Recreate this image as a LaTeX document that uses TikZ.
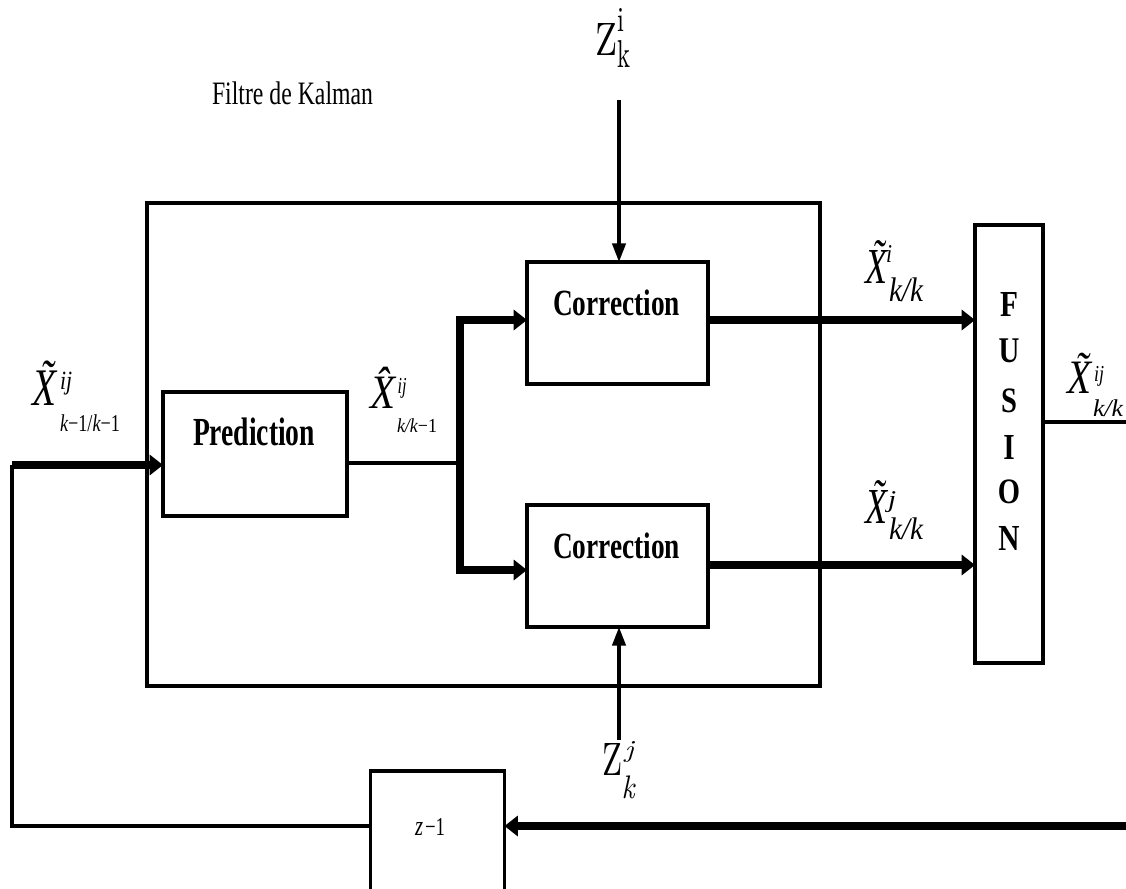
\documentclass[tikz,border=0pt]{standalone}
\usepackage{fontspec}
\usepackage{graphicx}
\newfontfamily\lib{Liberation Serif}
\usetikzlibrary{arrows.meta}
\newdimen\pxu \pxu=0.75pt
\newcommand\fitt[3]{\resizebox*{#1\pxu}{#2\pxu}{#3}}
\newcommand\Xt{{\lib\itshape X^^^^0303}}
\newcommand\Xh{{\lib\itshape X^^^^0302}}
\begin{document}
\begin{tikzpicture}[x=0.75pt,y=-0.75pt,
  txt/.style={inner sep=0pt,outer sep=0pt},
  blk/.style={draw, line width=2.6pt, inner sep=0pt, outer sep=0pt},
  thn/.style={line width=2.5pt},
  thk/.style={line width=5.5pt},
  thnarrow/.style={thn,-{Triangle[length=14pt,width=10pt]}},
  thkarrow/.style={thk,-{Triangle[length=10pt,width=15pt]}}]
\useasboundingbox (0,0) rectangle (1126,888);
\clip (0,0) rectangle (1126,888);
\fill[white] (0,0) rectangle (1126,888);

% blocks
\node[blk, minimum width=673*0.75pt, minimum height=483*0.75pt] (kalman) at (483.5,444.5) {};
\node[blk, minimum width=184*0.75pt, minimum height=124*0.75pt] (pred) at (255,454) {};
\node[blk, minimum width=181*0.75pt, minimum height=122*0.75pt] (corr1) at (617.5,323) {};
\node[blk, minimum width=181*0.75pt, minimum height=122*0.75pt] (corr2) at (617.5,566) {};
\node[blk, minimum width=68*0.75pt, minimum height=438*0.75pt] (fusion) at (1009,444) {};
\node[blk, minimum width=134*0.75pt, minimum height=130*0.75pt] (zbox) at (437.5,836) {};

% block texts
\node[txt] (title) at (292.5,93.5) {\fitt{161}{23}{\lib Filtre de Kalman}};
\node[txt] (tc1) at (616.5,303) {\fitt{127}{26}{\lib\bfseries Correction}};
\node[txt] (tc2) at (616.5,546) {\fitt{127}{26}{\lib\bfseries Correction}};
\node[txt] (tp) at (254,432) {\fitt{122}{28}{\lib\bfseries Prediction}};
\foreach \l/\yy [count=\n] in {F/304,U/351,S/401,I/447,O/492,N/538}
  \node[txt] (f\n) at (1009,\yy) {\scalebox{0.8}[1]{\resizebox*{!}{24\pxu}{\lib\bfseries \l}}};
\node[txt] (zz) at (419,829) {\fitt{8}{13}{\lib\itshape z}};
\node[txt] (zzs) at (435,826.5) {\fitt{20}{17}{\lib −1}};

% connector coordinates
\coordinate (fbR) at (1126,826);
\coordinate (fbC) at (12,826);
\coordinate (fbL) at (12,465);
\coordinate (split) at (460,463);
\coordinate (sTop) at (460,320);
\coordinate (sBot) at (460,570);
\coordinate (r1) at (708,320);
\coordinate (r2) at (708,565);
\coordinate (zi) at (619,100);
\coordinate (zj) at (619,740);
\coordinate (fo) at (1126,422);

% connectors
\draw[thkarrow] (fbR) -- (fbR -| zbox.east);
\draw[thn] (fbR -| zbox.west) -- (fbC) -- (fbL);
\draw[thkarrow] (fbL) -- (fbL -| pred.west);
\draw[thn] (split -| pred.east) -- (split);
\draw[thkarrow] (split) -- (sTop) -- (sTop -| corr1.west);
\draw[thkarrow] (split) -- (sBot) -- (sBot -| corr2.west);
\draw[thkarrow] (r1 -| corr1.east) -- (r1 -| fusion.west);
\draw[thkarrow] (r2 -| corr2.east) -- (r2 -| fusion.west);
\draw[thnarrow] (zi) -- (zi |- corr1.north);
\draw[thnarrow] (zj) -- (zj |- corr2.south);
\draw[thn] (fo -| fusion.east) -- (fo);

% left label  X~ ij k-1/k-1
\node[txt] (xa) at (45,383) {\fitt{24}{44}{\Xt}};
\node[txt] (xas) at (66,384) {\fitt{12}{23}{\lib\itshape ij}};
\node[txt] (xab) at (90,423) {\fitt{60}{17}{\lib\itshape k\upshape −1/\itshape k\upshape −1}};
% hat label
\node[txt] (xb) at (382.5,387.5) {\fitt{25}{41}{\Xh}};
\node[txt] (xbs) at (402,388) {\fitt{9}{20}{\lib\itshape ij}};
\node[txt] (xbb) at (417,426) {\fitt{40}{14}{\lib\itshape k/k\upshape −1}};
% X~ i k/k
\node[txt] (xc) at (876,262) {\fitt{22}{42}{\Xt}};
\node[txt] (xcs) at (889,254) {\fitt{6}{17}{\lib\itshape i}};
\node[txt] (xcb) at (906,290) {\fitt{34}{24}{\lib\itshape k/k}};
% X~ j k/k
\node[txt] (xd) at (876,502) {\fitt{22}{42}{\Xt}};
\node[txt] (xds) at (892,502) {\fitt{8}{21}{\lib\itshape j}};
\node[txt] (xdb) at (906,529) {\fitt{34}{22}{\lib\itshape k/k}};
% X~ ij k/k (output)
\node[txt] (xe) at (1079.5,373) {\fitt{24}{40}{\Xt}};
\node[txt] (xes) at (1099,376) {\fitt{10}{20}{\lib\itshape ij}};
\node[txt] (xeb) at (1108,408) {\fitt{30}{17}{\lib\itshape k/k}};
% Z_k^i
\node[txt] (za) at (606,39) {\fitt{22}{32}{Z}};
\node[txt] (zas) at (621,20) {\fitt{7}{23}{i}};
\node[txt] (zab) at (624,54) {\fitt{13}{27}{k}};
% Z_k^j
\node[txt] (zb) at (612,759) {\fitt{20}{32}{Z}};
\node[txt] (zbs) at (629,752) {\fitt{9}{21}{\itshape j}};
\node[txt] (zbb) at (628,787) {\fitt{13}{23}{\itshape k}};
\end{tikzpicture}
\end{document}
